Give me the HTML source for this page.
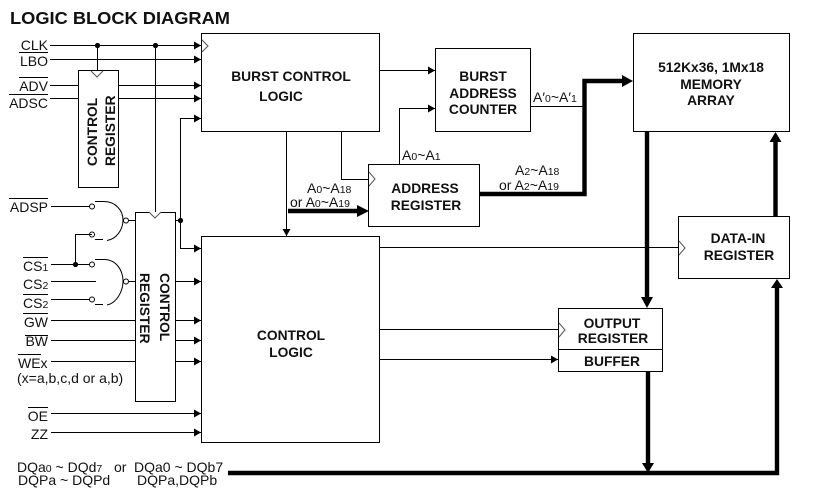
<!DOCTYPE html>
<html><head><meta charset="utf-8">
<style>
html,body{margin:0;padding:0;background:#fff}
svg{display:block}
text{font-family:"Liberation Sans",sans-serif;fill:#111}
.l{font-size:14px;text-anchor:end}
.n{font-size:14px}
.b{font-size:13.8px;font-weight:bold;text-anchor:middle}
.r{font-size:13.8px;font-weight:bold}
.s{font-size:14px}
.t{font-size:10.5px}
</style></head>
<body>
<svg width="817" height="495" viewBox="0 0 817 495" xmlns="http://www.w3.org/2000/svg">
<defs>
<marker id="a" markerUnits="userSpaceOnUse" markerWidth="8" markerHeight="8" refX="7" refY="4" orient="auto"><path d="M0,0L7,4L0,8z" fill="#000"/></marker>
</defs>
<rect width="817" height="495" fill="#fff"/>
<text x="10" y="24" style="font-size:17.5px;font-weight:bold" textLength="220" lengthAdjust="spacingAndGlyphs">LOGIC BLOCK DIAGRAM</text>

<g fill="none" stroke="#000" stroke-width="1">
<!-- input wires upper -->
<line x1="50" y1="45.5" x2="201" y2="45.5" marker-end="url(#a)"/>
<line x1="50" y1="59.5" x2="201" y2="59.5" marker-end="url(#a)"/>
<line x1="50" y1="85.5" x2="79" y2="85.5"/>
<line x1="118" y1="85.5" x2="201" y2="85.5" marker-end="url(#a)"/>
<line x1="50" y1="98.5" x2="79" y2="98.5"/>
<line x1="118" y1="98.5" x2="201" y2="98.5" marker-end="url(#a)"/>
<polyline points="180.5,220 180.5,118.5 201,118.5" marker-end="url(#a)"/>
<line x1="97.5" y1="46" x2="97.5" y2="71"/>
<line x1="155.5" y1="46" x2="155.5" y2="212"/>
<polyline points="180.5,220 180.5,248.5 201,248.5" marker-end="url(#a)"/>
<line x1="175" y1="220.5" x2="181" y2="220.5"/>
<!-- gates and inputs -->
<line x1="51" y1="206.5" x2="90" y2="206.5"/>
<circle cx="92" cy="206.5" r="2.5"/>
<polyline points="92,234.5 75.5,234.5 75.5,264.5"/>
<circle cx="92" cy="234.5" r="2.5"/>
<line x1="51" y1="264.5" x2="90" y2="264.5"/>
<circle cx="92" cy="264.5" r="2.5"/>
<line x1="51" y1="281.5" x2="96" y2="281.5"/>
<line x1="51" y1="299.5" x2="90" y2="299.5"/>
<circle cx="92" cy="299.5" r="2.5"/>
<path d="M95,201.5H104C116,201.5 123,211 123,220C123,229 117,239 107,240.5"/>
<line x1="95" y1="239.5" x2="103" y2="239.5"/>
<circle cx="126" cy="220.5" r="2.5"/>
<line x1="129" y1="220.5" x2="135" y2="220.5"/>
<path d="M95,259.5H104C116,259.5 123,270 123,281C123,291 117,303 107,305"/>
<line x1="95" y1="304.5" x2="103" y2="304.5"/>
<circle cx="126" cy="281.5" r="2.5"/>
<line x1="129" y1="281.5" x2="135" y2="281.5"/>
<line x1="175" y1="281.5" x2="201" y2="281.5" marker-end="url(#a)"/>
<line x1="51" y1="320.5" x2="135" y2="320.5"/>
<line x1="175" y1="320.5" x2="201" y2="320.5" marker-end="url(#a)"/>
<line x1="51" y1="340.5" x2="135" y2="340.5"/>
<line x1="175" y1="340.5" x2="201" y2="340.5" marker-end="url(#a)"/>
<line x1="51" y1="361.5" x2="135" y2="361.5"/>
<line x1="175" y1="361.5" x2="201" y2="361.5" marker-end="url(#a)"/>
<line x1="51" y1="413.5" x2="201" y2="413.5" marker-end="url(#a)"/>
<line x1="51" y1="432.5" x2="201" y2="432.5" marker-end="url(#a)"/>
<!-- overlines -->
<line x1="19" y1="52.5" x2="48" y2="52.5"/>
<line x1="19" y1="77.5" x2="48" y2="77.5"/>
<line x1="9" y1="94.5" x2="48" y2="94.5"/>
<line x1="9" y1="198.5" x2="48" y2="198.5"/>
<line x1="23" y1="257.5" x2="48" y2="257.5"/>
<line x1="23" y1="294.5" x2="48" y2="294.5"/>
<line x1="23" y1="313.5" x2="48" y2="313.5"/>
<line x1="25" y1="335.5" x2="48" y2="335.5"/>
<line x1="18" y1="354.5" x2="41" y2="354.5"/>
<line x1="28" y1="407.5" x2="48" y2="407.5"/>
<!-- inner wires -->
<line x1="286.5" y1="131" x2="286.5" y2="236" marker-end="url(#a)"/>
<polyline points="341.5,131 341.5,179.5 368,179.5"/>
<line x1="379" y1="70.5" x2="435" y2="70.5" marker-end="url(#a)"/>
<polyline points="399.5,164 399.5,108.5 435,108.5" marker-end="url(#a)"/>
<line x1="530" y1="106.5" x2="583" y2="106.5"/>
<line x1="380" y1="247.5" x2="678" y2="247.5"/>
<line x1="380" y1="329.5" x2="558" y2="329.5"/>
<line x1="380" y1="359.5" x2="558" y2="359.5" marker-end="url(#a)"/>
</g>

<!-- thick lines -->
<g fill="none" stroke="#000" stroke-width="4.4">
<line x1="288" y1="211" x2="358" y2="211"/>
<polyline points="480,194 584.5,194 584.5,81 623,81"/>
<line x1="647" y1="131" x2="647" y2="298"/>
<line x1="648" y1="371" x2="648" y2="464"/>
<polyline points="228,473 777,473 777,288"/>
<line x1="775.5" y1="216" x2="775.5" y2="142"/>
</g>
<g fill="#000">
<path d="M357,205L369,211L357,217z"/>
<path d="M622,75L633,81L622,87z"/>
<path d="M641,297H653L647,308z"/>
<path d="M642,463H654L648,473z"/>
<path d="M771,288L777,279L783,288z"/>
<path d="M769.5,142L775.5,132L781.5,142z"/>
<circle cx="97.5" cy="45.5" r="2.6"/>
<circle cx="155.5" cy="45.5" r="2.6"/>
<circle cx="180.5" cy="220.5" r="2.6"/>
<circle cx="75.5" cy="264.5" r="2.6"/>
</g>

<!-- boxes -->
<g fill="#fff" stroke="#000" stroke-width="1">
<rect x="78.5" y="70.5" width="40" height="117"/>
<rect x="135.5" y="212.5" width="40" height="189"/>
<rect x="201.5" y="33.5" width="178" height="98"/>
<rect x="201.5" y="236.5" width="178" height="206"/>
<rect x="435.5" y="48.5" width="95" height="83"/>
<rect x="368.5" y="164.5" width="111" height="62"/>
<rect x="678.5" y="216.5" width="111" height="62"/>
<rect x="558.5" y="308.5" width="104" height="63"/>
</g>
<rect x="633.5" y="33.5" width="156" height="98" fill="#fff" stroke="#000"/>
<line x1="558" y1="349.5" x2="663" y2="349.5" stroke="#000"/>

<!-- clock triangles -->
<g fill="#fff" stroke="#555" stroke-width="1">
<path d="M202,40L208,46L202,52"/>
<path d="M91,71L97,77L103,71"/>
<path d="M149,212L155,218L161,212"/>
<path d="M369,172L375,179L369,186"/>
<path d="M679,241L685,248L679,255"/>
<path d="M559,323L565,330L559,337"/>
</g>

<!-- left labels -->
<text class="l" x="48" y="50">CLK</text>
<text class="l" x="48" y="66">LBO</text>
<text class="l" x="48" y="91">ADV</text>
<text class="l" x="48" y="108">ADSC</text>
<text class="l" x="48" y="212">ADSP</text>
<text x="23" y="271" class="n">CS<tspan class="t">1</tspan></text>
<text x="23" y="289" class="n">CS<tspan class="t">2</tspan></text>
<text x="23" y="308" class="n">CS<tspan class="t">2</tspan></text>
<text class="l" x="48" y="327">GW</text>
<text class="l" x="48" y="346">BW</text>
<text x="18" y="368" class="n">WEx</text>
<text x="17" y="383" class="s">(x=a,b,c,d or a,b)</text>
<text class="l" x="48" y="421">OE</text>
<text class="l" x="48" y="439">ZZ</text>

<!-- rotated register labels -->
<text class="r" transform="translate(97,166) rotate(-90)">CONTROL</text>
<text class="r" transform="translate(115,166) rotate(-90)">REGISTER</text>
<text class="r" transform="translate(160,273) rotate(90)">CONTROL</text>
<text class="r" transform="translate(140,273) rotate(90)">REGISTER</text>

<!-- block labels -->
<text class="b" x="291" y="81">BURST CONTROL</text>
<text class="b" x="281" y="101">LOGIC</text>
<text class="b" x="291" y="340">CONTROL</text>
<text class="b" x="291" y="357">LOGIC</text>
<text class="b" x="483" y="81">BURST</text>
<text class="b" x="483" y="98">ADDRESS</text>
<text class="b" x="483" y="114">COUNTER</text>
<text class="b" x="425" y="193">ADDRESS</text>
<text class="b" x="426" y="210">REGISTER</text>
<text class="b" x="711" y="72">512Kx36, 1Mx18</text>
<text class="b" x="711" y="89">MEMORY</text>
<text class="b" x="711" y="105">ARRAY</text>
<text class="b" x="738" y="243">DATA-IN</text>
<text class="b" x="739" y="260">REGISTER</text>
<text class="b" x="612" y="328">OUTPUT</text>
<text class="b" x="613" y="343">REGISTER</text>
<text class="b" x="612" y="366">BUFFER</text>

<!-- signal labels -->
<text x="533" y="102" class="s">A′<tspan class="t">0</tspan>~A′<tspan class="t">1</tspan></text>
<text x="402" y="160" class="s">A<tspan class="t">0</tspan>~A<tspan class="t">1</tspan></text>
<text x="515" y="175" class="s">A<tspan class="t">2</tspan>~A<tspan class="t">18</tspan></text>
<text x="499" y="190" class="s">or A<tspan class="t">2</tspan>~A<tspan class="t">19</tspan></text>
<text x="307" y="193" class="s">A<tspan class="t">0</tspan>~A<tspan class="t">18</tspan></text>
<text x="290" y="207" class="s">or A<tspan class="t">0</tspan>~A<tspan class="t">19</tspan></text>

<!-- bottom labels -->
<text x="17" y="472" class="s">DQa<tspan class="t">0</tspan> ~ DQd<tspan class="t">7</tspan></text>
<text x="114" y="472" class="s">or</text>
<text x="134" y="472" class="s">DQa0 ~ DQb7</text>
<text x="18" y="485" class="s">DQPa ~ DQPd</text>
<text x="137" y="485" class="s">DQPa,DQPb</text>
</svg>
</body></html>
